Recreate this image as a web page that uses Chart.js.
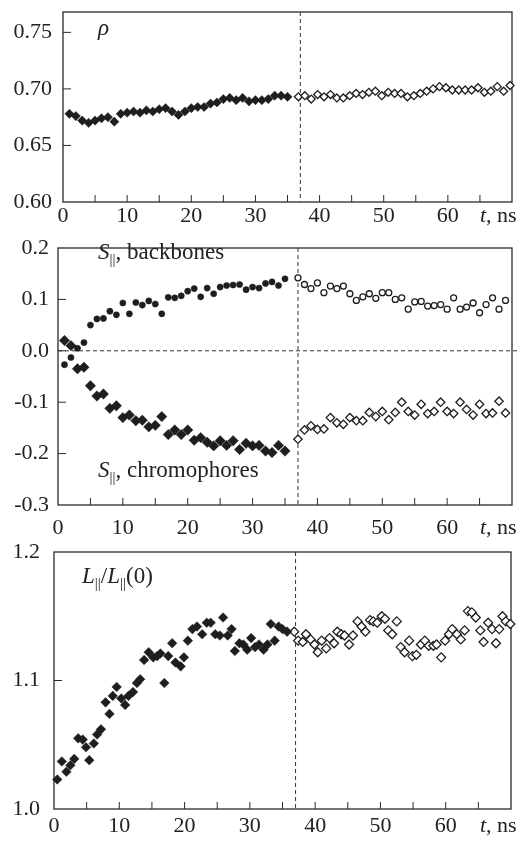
<!DOCTYPE html>
<html>
<head>
<meta charset="utf-8">
<script src="https://cdn.jsdelivr.net/npm/chart.js@4"></script>
<style>
  html, body { margin: 0; padding: 0; background: #fff; }
  #wrap { position: relative; width: 527px; height: 841px; }
  #wrap canvas { position: absolute; left: 0; }
</style>
</head>
<body>
<div id="wrap">
  <canvas id="rho" width="527" height="240" style="top:0px"></canvas>
  <canvas id="order" width="527" height="310" style="top:232px"></canvas>
  <canvas id="length" width="527" height="305" style="top:536px"></canvas>
</div>
<script>
// ---- panel 1: density rho(t) ----
const rhoTimeA = [1,2,3,4,5,6,7,8,9,10,11,12,13,14,15,16,17,18,19,20,21,22,23,24,25,26,27,28,29,30,31,32,33,34,35];
const rhoValA  = [0.678,0.676,0.672,0.670,0.672,0.674,0.675,0.671,0.678,0.679,0.680,0.679,0.681,0.680,0.682,0.683,0.680,0.677,0.680,0.683,0.684,0.684,0.687,0.688,0.691,0.692,0.690,0.692,0.689,0.690,0.690,0.691,0.694,0.694,0.693];
const rhoTimeB = [36.7,37.7,38.7,39.7,40.7,41.7,42.7,43.7,44.7,45.7,46.7,47.7,48.7,49.7,50.7,51.7,52.7,53.7,54.7,55.7,56.7,57.7,58.7,59.7,60.7,61.7,62.7,63.7,64.7,65.7,66.7,67.7,68.7,69.7];
const rhoValB  = [0.693,0.694,0.691,0.695,0.693,0.695,0.692,0.692,0.694,0.696,0.695,0.697,0.698,0.694,0.697,0.696,0.696,0.693,0.694,0.696,0.698,0.700,0.702,0.701,0.699,0.699,0.699,0.699,0.701,0.697,0.698,0.702,0.698,0.703];

// ---- panel 2: order parameters ----
const sTimeA = [1,2,3,4,5,6,7,8,9,10,11,12,13,14,15,16,17,18,19,20,21,22,23,24,25,26,27,28,29,30,31,32,33,34,35];
const backboneA = [-0.027,-0.013,0.005,0.016,0.050,0.062,0.063,0.077,0.070,0.093,0.072,0.094,0.089,0.097,0.091,0.072,0.104,0.103,0.107,0.116,0.121,0.105,0.122,0.111,0.124,0.127,0.128,0.129,0.119,0.124,0.122,0.131,0.134,0.127,0.140];
const chromoA   = [0.020,0.010,-0.035,-0.032,-0.068,-0.088,-0.084,-0.112,-0.107,-0.130,-0.125,-0.136,-0.135,-0.148,-0.145,-0.128,-0.163,-0.154,-0.163,-0.154,-0.174,-0.169,-0.178,-0.185,-0.175,-0.184,-0.175,-0.192,-0.180,-0.185,-0.184,-0.195,-0.198,-0.184,-0.195];
const sTimeB = [37,38,39,40,41,42,43,44,45,46,47,48,49,50,51,52,53,54,55,56,57,58,59,60,61,62,63,64,65,66,67,68,69];
const backboneB = [0.142,0.129,0.121,0.132,0.113,0.126,0.121,0.126,0.111,0.098,0.105,0.111,0.102,0.113,0.113,0.100,0.103,0.081,0.095,0.096,0.087,0.088,0.090,0.081,0.103,0.081,0.085,0.093,0.074,0.090,0.103,0.081,0.098];
const chromoB   = [-0.172,-0.154,-0.146,-0.153,-0.152,-0.130,-0.140,-0.143,-0.130,-0.136,-0.136,-0.120,-0.128,-0.118,-0.134,-0.120,-0.100,-0.118,-0.125,-0.104,-0.122,-0.118,-0.100,-0.118,-0.122,-0.100,-0.114,-0.125,-0.104,-0.122,-0.121,-0.098,-0.121];

// ---- panel 3: L||/L||(0) ----
const lenTimeA = [0.5,1.2,1.9,2.5,3.1,3.7,4.4,4.9,5.4,6.1,6.6,7.2,7.9,8.5,9.0,9.6,10.3,10.9,11.4,12.1,12.7,13.2,13.8,14.5,15.2,15.8,16.3,16.9,17.5,18.1,18.6,19.4,19.9,20.5,21.2,21.9,22.7,23.4,24.0,24.7,25.4,25.9,26.6,27.2,27.7,28.4,29.0,29.6,30.2,30.8,31.4,32.1,32.7,33.2,33.8,34.4,35.0,35.7];
const lenValA  = [1.023,1.037,1.029,1.034,1.039,1.055,1.054,1.048,1.038,1.051,1.058,1.062,1.083,1.074,1.088,1.095,1.086,1.081,1.088,1.091,1.098,1.101,1.116,1.122,1.118,1.119,1.121,1.098,1.119,1.129,1.114,1.111,1.118,1.131,1.140,1.142,1.136,1.145,1.145,1.136,1.135,1.149,1.135,1.140,1.123,1.129,1.128,1.124,1.133,1.126,1.128,1.124,1.128,1.144,1.131,1.142,1.140,1.138];
const lenTimeB = [36.8,37.4,38.1,38.6,39.3,39.9,40.4,41.0,41.7,42.2,42.9,43.4,44.0,44.5,45.2,45.8,46.5,47.1,47.7,48.4,48.9,49.5,50.2,50.7,51.2,51.8,52.5,53.1,53.7,54.4,54.9,55.5,56.2,56.8,57.4,58.1,58.6,59.3,59.9,60.5,61.0,61.7,62.3,62.9,63.4,64.0,64.6,65.3,65.8,66.5,67.1,67.7,68.2,68.7,69.2,69.9];
const lenValB  = [1.138,1.131,1.130,1.136,1.132,1.128,1.122,1.131,1.125,1.133,1.129,1.138,1.136,1.135,1.128,1.135,1.146,1.142,1.138,1.147,1.146,1.145,1.150,1.148,1.139,1.136,1.146,1.126,1.122,1.131,1.119,1.120,1.128,1.131,1.127,1.127,1.128,1.118,1.131,1.136,1.140,1.136,1.132,1.139,1.154,1.153,1.149,1.139,1.130,1.145,1.140,1.129,1.140,1.150,1.146,1.144];

const FONT = '"Liberation Serif", "DejaVu Serif", serif';
const INK = '#1e1e1e';
Chart.defaults.font.family = FONT;
Chart.defaults.font.size = 22;
Chart.defaults.color = '#222';

const pts = (xs, ys) => xs.map((x, i) => ({ x: x, y: ys[i] }));

function filled(data, style, r) {
  return { data, pointStyle: style, pointRadius: r, pointHoverRadius: r,
           backgroundColor: INK, borderColor: INK, borderWidth: 0.5, clip: false };
}
function hollow(data, style, r) {
  return { data, pointStyle: style, pointRadius: r, pointHoverRadius: r,
           backgroundColor: '#fff', borderColor: INK, borderWidth: 1.3, clip: false };
}

// draw mixed italic / roman / subscript text pieces in a row
function drawRich(ctx, x, y, parts) {
  parts.forEach(([txt, kind]) => {
    let dy = 0;
    if (kind === 'i') ctx.font = 'italic 23px ' + FONT;
    else if (kind === 'sub') { ctx.font = '15px ' + FONT; dy = 5; }
    else ctx.font = '23px ' + FONT;
    ctx.fillText(txt, x, y + dy);
    x += ctx.measureText(txt).width;
  });
}

/* box, inward ticks, dashed lines and texts */
const framePlugin = {
  id: 'frame',
  beforeDatasetsDraw(chart, args, opts) {
    const { ctx, chartArea: a, scales: { x, y } } = chart;
    ctx.save();
    ctx.strokeStyle = '#2a2a2a';
    ctx.lineWidth = 1;
    ctx.beginPath();
    x.ticks.forEach(t => {
      const px = x.getPixelForValue(t.value);
      if (px > a.left + 1 && px < a.right - 1) { ctx.moveTo(px, a.bottom); ctx.lineTo(px, a.bottom - 7); }
    });
    y.ticks.forEach(t => {
      const py = y.getPixelForValue(t.value);
      if (py > a.top + 1 && py < a.bottom - 1) { ctx.moveTo(a.left, py); ctx.lineTo(a.left + 8, py); }
    });
    ctx.stroke();

    ctx.setLineDash([4, 3]);
    ctx.strokeStyle = '#333';
    ctx.beginPath();
    const vx = x.getPixelForValue(opts.vline);
    ctx.moveTo(vx, a.top); ctx.lineTo(vx, a.bottom);
    if (opts.hline !== undefined) {
      const hy = y.getPixelForValue(opts.hline);
      ctx.moveTo(a.left, hy); ctx.lineTo(a.right + 8, hy);
    }
    ctx.stroke();
    ctx.setLineDash([]);

    ctx.strokeStyle = '#2a2a2a';
    ctx.lineWidth = 1.3;
    ctx.strokeRect(a.left, a.top, a.right - a.left, a.bottom - a.top);
    ctx.restore();
  },
  afterDraw(chart, args, opts) {
    const { ctx, chartArea: a } = chart;
    ctx.save();
    ctx.fillStyle = '#222';
    ctx.textAlign = 'left';
    ctx.textBaseline = 'alphabetic';
    (opts.texts || []).forEach(t => drawRich(ctx, t.x, t.y, t.parts));
    // axis title in place of the last tick label
    ctx.textBaseline = 'middle';
    const ty = a.bottom + opts.xPad + 22 * 1.2 / 2;
    let tx = 480;
    ctx.font = 'italic 22px ' + FONT;
    ctx.fillText('t', tx, ty);
    tx += ctx.measureText('t').width;
    ctx.font = '22px ' + FONT;
    ctx.fillText(', ns', tx, ty);
    ctx.restore();
  }
};

function makeConfig(datasets, p) {
  return {
    type: 'scatter',
    data: { datasets },
    plugins: [framePlugin],
    options: {
      responsive: false,
      animation: false,
      events: [],
      layout: { padding: { top: p.top, right: p.right, left: 0, bottom: 0 } },
      plugins: {
        legend: { display: false },
        tooltip: { enabled: false },
        frame: { vline: 37, hline: p.hline, xPad: p.xPad, texts: p.texts }
      },
      scales: {
        x: {
          type: 'linear', min: 0, max: 70,
          grid: { display: false, drawTicks: false }, border: { display: false },
          ticks: {
            stepSize: 5, autoSkip: false, maxRotation: 0, minRotation: 0, padding: p.xPad,
            callback: v => (v % 10 === 0 && v < 70) ? String(v) : ''
          },
          afterFit: s => { s.height = p.xH; s.paddingLeft = 0; s.paddingRight = 0; }
        },
        y: {
          min: p.ymin, max: p.ymax,
          grid: { display: false, drawTicks: false }, border: { display: false },
          ticks: {
            stepSize: p.step, includeBounds: false, padding: p.yPad,
            callback: v => (Math.abs(v) < 1e-9 ? 0 : v).toFixed(p.dec)
          },
          afterFit: s => { s.width = p.yW; s.paddingTop = 0; s.paddingBottom = 0; }
        }
      }
    }
  };
}

new Chart(document.getElementById('rho').getContext('2d'), makeConfig([
  filled(pts(rhoTimeA, rhoValA), 'rectRot', 4.6),
  hollow(pts(rhoTimeB, rhoValB), 'rectRot', 4)
], {
  top: 12, right: 15, xH: 38, yW: 63, xPad: 1, yPad: 11,
  ymin: 0.6, ymax: 0.768, step: 0.05, dec: 2,
  texts: [{ x: 98, y: 35, parts: [['ρ', 'i']] }]
}));

new Chart(document.getElementById('order').getContext('2d'), makeConfig([
  filled(pts(sTimeA, chromoA), 'rectRot', 5.2),
  hollow(pts(sTimeB, chromoB), 'rectRot', 4.2),
  filled(pts(sTimeA, backboneA), 'circle', 3.1),
  hollow(pts(sTimeB, backboneB), 'circle', 3)
], {
  top: 16, right: 15, xH: 37, yW: 58, xPad: 10, yPad: 9,
  ymin: -0.3, ymax: 0.2, step: 0.1, dec: 1, hline: 0,
  texts: [
    { x: 98, y: 27, parts: [['S', 'i'], ['||', 'sub'], [', backbones', 'r']] },
    { x: 98, y: 245, parts: [['S', 'i'], ['||', 'sub'], [', chromophores', 'r']] }
  ]
}));

new Chart(document.getElementById('length').getContext('2d'), makeConfig([
  filled(pts(lenTimeA, lenValA), 'rectRot', 4.8),
  hollow(pts(lenTimeB, lenValB), 'rectRot', 4.5)
], {
  top: 16, right: 16, xH: 32, yW: 54, xPad: 4, yPad: 14,
  ymin: 1.0, ymax: 1.2, step: 0.1, dec: 1,
  texts: [{ x: 82, y: 47, parts: [['L', 'i'], ['||', 'sub'], ['/', 'r'], ['L', 'i'], ['||', 'sub'], ['(0)', 'r']] }]
}));
</script>
</body>
</html>
